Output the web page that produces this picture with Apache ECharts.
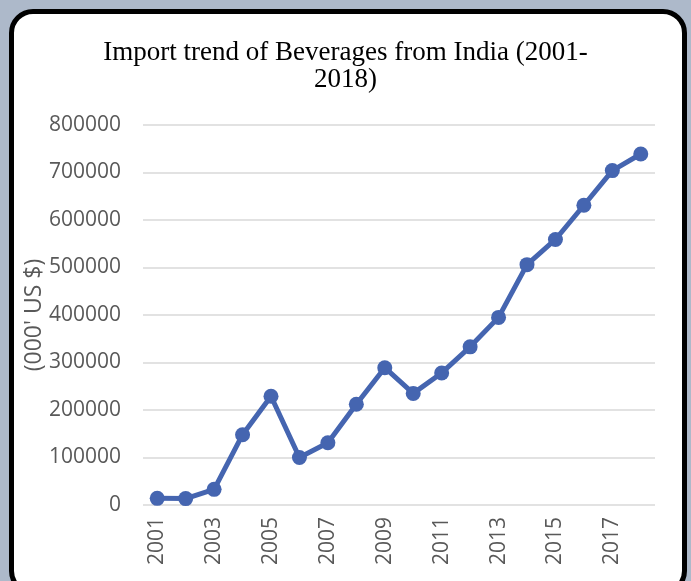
<!DOCTYPE html>
<html>
<head>
<meta charset="utf-8">
<script src="https://cdn.jsdelivr.net/npm/echarts@6/dist/echarts.min.js"></script>
<style>
  html, body { margin: 0; padding: 0; }
  body { width: 691px; height: 581px; background: #adb9ca; position: relative; overflow: hidden; }
  .frame {
    position: absolute; left: 9px; top: 9px; width: 668px; height: 576px;
    background: #fff; border: 5px solid #000; border-radius: 24px;
  }
  #chart { position: absolute; left: 0; top: 0; width: 691px; height: 581px; }
</style>
</head>
<body>
<div class="frame"></div>
<div id="chart"></div>
<script>
  // years and import values (000' US $)
  var years = ['2001', '2002', '2003', '2004', '2005', '2006', '2007', '2008', '2009',
    '2010', '2011', '2012', '2013', '2014', '2015', '2016', '2017', '2018'];
  var imports = [14000, 13500, 33000, 148000, 229000, 100000, 131000, 212000, 289000,
    235000, 278000, 333000, 395000, 506000, 559000, 631000, 704000, 739000];
  var yTicks = [0, 100000, 200000, 300000, 400000, 500000, 600000, 700000, 800000];

  var chart = echarts.init(document.getElementById('chart'));
  var axisFont = 'Open Sans';
  var options = {
    backgroundColor: 'transparent',
    animation: false,
    title: {
      text: 'Import trend of Beverages from India (2001-\n2018)',
      left: 'center',
      top: 34,
      textStyle: {
        fontFamily: 'Liberation Serif',
        fontWeight: 'normal',
        fontSize: 27,
        lineHeight: 27,
        color: '#000'
      }
    },
    grid: {
      left: 143,
      right: 36,
      top: 125,
      bottom: 76
    },
    xAxis: {
      type: 'category',
      data: years,
      axisLine: { show: false },
      axisTick: { show: false },
      axisLabel: {
        interval: 1,
        rotate: 90,
        margin: 12,
        fontFamily: axisFont,
        fontSize: 21,
        color: '#595959'
      }
    },
    yAxis: {
      type: 'value',
      min: yTicks[0],
      max: yTicks[yTicks.length - 1],
      interval: 100000,
      name: "(000' US $)",
      nameLocation: 'middle',
      nameGap: 97,
      nameMoveOverlap: false,
      nameTextStyle: {
        fontFamily: axisFont,
        fontSize: 23,
        color: '#595959'
      },
      axisLine: { show: false },
      axisTick: { show: false },
      axisLabel: {
        margin: 22,
        fontFamily: axisFont,
        fontSize: 21,
        color: '#595959',
        formatter: function (v) { return String(v); }
      },
      splitLine: {
        lineStyle: { color: '#d9d9d9', width: 1.5 }
      }
    },
    series: [
      {
        name: 'Imports',
        type: 'line',
        data: imports,
        symbol: 'circle',
        symbolSize: 15,
        lineStyle: { color: '#4565b0', width: 5 },
        itemStyle: { color: '#4565b0' }
      }
    ]
  };
  chart.setOption(options);
</script>
</body>
</html>
